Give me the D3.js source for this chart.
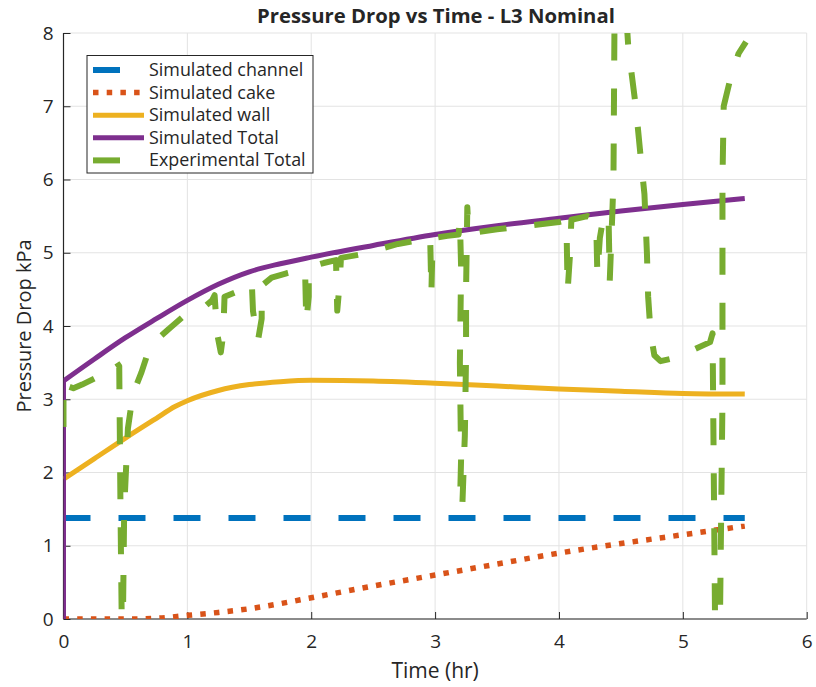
<!DOCTYPE html>
<html>
<head>
<meta charset="utf-8">
<script src="https://cdn.jsdelivr.net/npm/d3@7"></script>
<style>
  html, body { margin: 0; padding: 0; background: #fff; }
  svg { display: block; }
  text { font-family: "Open Sans", Lato, sans-serif; fill: #262626; }
</style>
</head>
<body>
<svg id="chart" width="816" height="687"></svg>
<script>
// ---- data ----
const titleText = "Pressure Drop vs Time - L3 Nominal";
const xLabel = "Time (hr)";
const yLabel = "Pressure Drop kPa";
const xTicks = [0, 1, 2, 3, 4, 5, 6];
const yTicks = [0, 1, 2, 3, 4, 5, 6, 7, 8];
const seriesNames = ["Simulated channel", "Simulated cake", "Simulated wall", "Simulated Total", "Experimental Total"];
const seriesColors = ["#0072BD", "#D95319", "#EDB120", "#7E2F8E", "#77AC30"];

const channelT = [0, 5.5];
const channelV = [1.38, 1.38];

const cakeT = [0, 0.5, 0.75, 1.0, 1.25, 1.5, 1.75, 2.0, 2.5, 3.0, 3.5, 4.0, 4.5, 5.0, 5.5];
const cakeV = [0, 0, 0.01, 0.05, 0.09, 0.14, 0.21, 0.29, 0.45, 0.6, 0.75, 0.9, 1.03, 1.15, 1.27];

const wallT = [0, 0.25, 0.5, 0.75, 0.9, 1.0, 1.25, 1.5, 1.75, 2.0, 2.5, 3.0, 3.5, 4.0, 4.5, 5.0, 5.5];
const wallV = [1.91, 2.19, 2.47, 2.74, 2.9, 2.98, 3.12, 3.2, 3.24, 3.26, 3.25, 3.22, 3.18, 3.14, 3.11, 3.08, 3.07];

const totalT = [0, 0, 0.25, 0.5, 0.75, 1.0, 1.25, 1.5, 1.75, 2.0, 2.5, 3.0, 3.5, 4.0, 4.5, 5.0, 5.5];
const totalV = [0, 3.25, 3.55, 3.84, 4.1, 4.35, 4.57, 4.74, 4.85, 4.94, 5.1, 5.25, 5.37, 5.47, 5.57, 5.66, 5.74];

const expT = [0, 0, 0.03, 0.08, 0.15, 0.27, 0.43, 0.45, 0.46, 0.47, 0.48, 0.49, 0.52, 0.56, 0.63, 0.7, 0.85, 0.96, 1.13,
  1.2, 1.22, 1.24, 1.27, 1.29, 1.3, 1.33, 1.45, 1.52, 1.53, 1.57, 1.6, 1.6, 1.68, 1.8, 1.95, 1.96, 1.98, 1.98,
  2.1, 2.2, 2.21, 2.23, 2.24, 2.41, 2.55, 2.7, 2.9, 2.96, 2.97, 2.98, 3.1, 3.19,
  3.2, 3.21, 3.2, 3.21, 3.2, 3.22, 3.24, 3.25, 3.25, 3.26, 3.27,
  3.3, 3.5, 3.8, 4.0, 4.06, 4.07, 4.09, 4.1, 4.23, 4.3, 4.31, 4.33, 4.36, 4.4, 4.41, 4.43, 4.44, 4.45,
  4.53, 4.56, 4.62, 4.66, 4.69, 4.71, 4.72, 4.74, 4.77, 4.82, 4.9, 5.05, 5.22, 5.24, 5.26, 5.3, 5.32, 5.32, 5.33, 5.38, 5.45, 5.51];
const expV = [2.62, 3.25, 3.18, 3.15, 3.2, 3.3, 3.5, 3.45, 1.5, 0, 0, 1.5, 2.6, 3.07, 3.37, 3.73, 3.96, 4.12, 4.25,
  4.35, 4.42, 3.9, 3.64, 3.9, 4.4, 4.42, 4.5, 4.6, 4.2, 3.8, 4.1, 4.55, 4.66, 4.72, 4.78, 4.05, 4.4, 4.8,
  4.86, 4.9, 4.21, 4.6, 4.93, 4.98, 5.05, 5.12, 5.18, 5.22, 4.44, 5.2, 5.23, 5.25,
  5.45, 4.8, 3.5, 2.2, 1.52, 1.55, 2.5, 3.6, 4.5, 5.62, 5.3,
  5.27, 5.32, 5.38, 5.42, 5.44, 4.48, 5.0, 5.45, 5.5, 5.45, 4.7, 5.2, 5.5, 5.52, 4.62, 5.5, 6.0, 8.6,
  8.6, 7.8, 7.0, 6.3, 5.8, 5.0, 4.4, 3.9, 3.6, 3.52, 3.55, 3.65, 3.78, 3.9, 0, 0, 3.0, 6.0, 7.0, 7.35, 7.72, 7.88];

// ---- layout ----
const svg = d3.select("#chart");
const pL = 63.5, pR = 806.7, pT = 33, pB = 619;
const x = d3.scaleLinear().domain([0, 6]).range([pL, pR]);
const y = d3.scaleLinear().domain([0, 8]).range([pB, pT]);

svg.append("defs").append("clipPath").attr("id", "clip")
  .append("rect").attr("x", pL).attr("y", pT).attr("width", pR - pL).attr("height", pB - pT);

// grid
const grid = svg.append("g");
grid.selectAll(".gx").data(xTicks).enter().append("line")
  .attr("x1", d => x(d)).attr("x2", d => x(d)).attr("y1", pT).attr("y2", pB)
  .attr("stroke", "#e3e3e3").attr("stroke-width", 1);
grid.selectAll(".gy").data(yTicks).enter().append("line")
  .attr("x1", pL).attr("x2", pR).attr("y1", d => y(d)).attr("y2", d => y(d))
  .attr("stroke", "#e3e3e3").attr("stroke-width", 1);

// axes
const xAxis = d3.axisBottom(x).tickValues(xTicks).tickSize(-7).tickPadding(16).tickFormat(d3.format("d"));
const yAxis = d3.axisLeft(y).tickValues(yTicks).tickSize(-7).tickPadding(10).tickFormat(d3.format("d"));
const gx = svg.append("g").attr("transform", `translate(0,${pB})`).call(xAxis);
const gy = svg.append("g").attr("transform", `translate(${pL},0)`).call(yAxis);
[gx, gy].forEach(g => {
  g.select(".domain").attr("stroke", "#262626").attr("stroke-width", 1.2);
  g.selectAll(".tick line").attr("stroke", "#262626").attr("stroke-width", 1);
  g.selectAll(".tick text").style("font-family", "'Open Sans', sans-serif").style("font-size", "19px").attr("fill", "#262626");
});
gx.select(".domain").attr("d", `M${pL},0H${pR}`);
gy.select(".domain").attr("d", `M0,${pB}V${pT}`);

// labels
svg.append("text").attr("x", 436).attr("y", 23).attr("text-anchor", "middle")
  .style("font-size", "20.3px").style("font-weight", "bold").attr("fill", "#000").text(titleText);
svg.append("text").attr("x", x(3)).attr("y", 677.5).attr("text-anchor", "middle")
  .style("font-size", "21px").text(xLabel);
svg.append("text").attr("transform", `translate(31,${(pT + pB) / 2}) rotate(-90)`).attr("text-anchor", "middle")
  .style("font-size", "20px").text(yLabel);

// series
const zip = (a, b) => a.map((t, i) => [t, b[i]]);
const lin = d3.line().x(d => x(d[0])).y(d => y(d[1]));
const smooth = d3.line().x(d => x(d[0])).y(d => y(d[1])).curve(d3.curveMonotoneX);
const styles = [
  { w: 6, dash: "27,28" },
  { w: 5.5, dash: "5.5,8.2" },
  { w: 5, dash: null },
  { w: 5, dash: null },
  { w: 6, dash: "27,28" }
];
const totalPts = zip(totalT, totalV);
const paths = [
  smooth(zip(channelT, channelV)),
  smooth(zip(cakeT, cakeV)),
  smooth(zip(wallT, wallV)),
  `M${x(totalPts[0][0])},${y(totalPts[0][1])}` + smooth(totalPts.slice(1)).replace(/^M/, "L"),
  lin(zip(expT, expV))
];
const plotG = svg.append("g").attr("clip-path", "url(#clip)");
paths.forEach((d, i) => {
  plotG.append("path").attr("d", d)
    .attr("fill", "none").attr("stroke", seriesColors[i]).attr("stroke-width", styles[i].w)
    .attr("stroke-dasharray", styles[i].dash).attr("stroke-linecap", "butt")
    .attr("stroke-linejoin", "round");
});

// legend
const lg = svg.append("g");
lg.append("rect").attr("x", 87).attr("y", 55.5).attr("width", 226).attr("height", 117.5)
  .attr("fill", "#fff").attr("stroke", "#262626").attr("stroke-width", 1);
seriesNames.forEach((name, i) => {
  const yy = 70 + i * 22.6;
  lg.append("line").attr("x1", 93).attr("x2", 144).attr("y1", yy).attr("y2", yy)
    .attr("stroke", seriesColors[i]).attr("stroke-width", styles[i].w)
    .attr("stroke-dasharray", styles[i].dash);
  lg.append("text").attr("x", 149).attr("y", yy + 6).style("font-size", "17.9px").text(name);
});
</script>
</body>
</html>
